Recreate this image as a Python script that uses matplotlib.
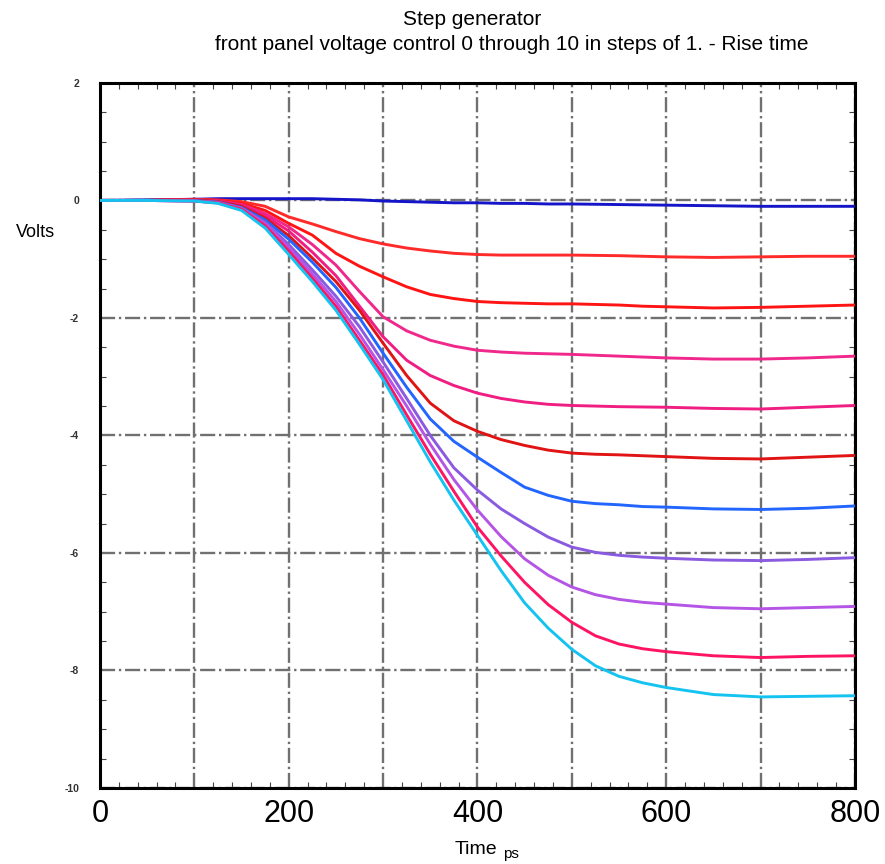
import matplotlib.pyplot as plt
import numpy as np
from matplotlib.ticker import MultipleLocator, FuncFormatter

# time axis in ps
time_ps = [0, 50, 100, 125, 150, 175, 200, 225, 250, 275, 300, 325, 350, 375,
           400, 425, 450, 475, 500, 525, 550, 575, 600, 650, 700, 750, 800]

# one trace per front panel setting (volts)
v_dark_blue = [0, 0.01, 0.02, 0.03, 0.03, 0.03, 0.03, 0.03, 0.02, 0.01, -0.01, -0.02, -0.03, -0.04,
               -0.04, -0.05, -0.05, -0.06, -0.06, -0.065, -0.07, -0.075, -0.08, -0.09, -0.10, -0.10, -0.10]
v_red1 = [0, 0, 0.02, 0.01, -0.02, -0.10, -0.28, -0.40, -0.53, -0.65, -0.74, -0.81, -0.86, -0.90,
          -0.92, -0.93, -0.93, -0.93, -0.93, -0.935, -0.94, -0.95, -0.96, -0.97, -0.96, -0.95, -0.95]
v_red2 = [0, 0, 0.01, 0, -0.05, -0.17, -0.39, -0.59, -0.90, -1.12, -1.30, -1.47, -1.60, -1.67,
          -1.72, -1.74, -1.75, -1.76, -1.76, -1.77, -1.78, -1.80, -1.81, -1.83, -1.82, -1.80, -1.78]
v_pink1 = [0, 0, 0.01, -0.01, -0.07, -0.22, -0.45, -0.75, -1.10, -1.55, -1.98, -2.22, -2.38, -2.48,
           -2.55, -2.58, -2.60, -2.61, -2.62, -2.635, -2.65, -2.665, -2.68, -2.70, -2.70, -2.68, -2.65]
v_pink2 = [0, 0, 0.01, -0.01, -0.08, -0.26, -0.52, -0.88, -1.28, -1.80, -2.32, -2.72, -2.98, -3.15,
           -3.28, -3.37, -3.43, -3.47, -3.49, -3.50, -3.51, -3.515, -3.52, -3.54, -3.55, -3.52, -3.49]
v_red3 = [0, 0, 0.01, -0.02, -0.10, -0.30, -0.60, -0.98, -1.38, -1.87, -2.43, -2.98, -3.45, -3.75,
          -3.93, -4.07, -4.17, -4.25, -4.30, -4.32, -4.33, -4.345, -4.36, -4.39, -4.40, -4.37, -4.34]
v_blue = [0, 0, 0, -0.03, -0.12, -0.33, -0.66, -1.05, -1.48, -2.00, -2.60, -3.18, -3.72, -4.10,
          -4.37, -4.63, -4.88, -5.02, -5.12, -5.16, -5.18, -5.21, -5.22, -5.25, -5.26, -5.24, -5.20]
v_purple = [0, 0, -0.01, -0.03, -0.13, -0.37, -0.75, -1.18, -1.63, -2.15, -2.75, -3.37, -4.00, -4.55,
            -4.93, -5.25, -5.50, -5.73, -5.90, -5.99, -6.04, -6.07, -6.09, -6.12, -6.13, -6.11, -6.08]
v_orchid = [0, 0, -0.01, -0.04, -0.14, -0.40, -0.80, -1.25, -1.72, -2.28, -2.88, -3.50, -4.15, -4.75,
            -5.27, -5.72, -6.10, -6.38, -6.58, -6.71, -6.79, -6.84, -6.87, -6.93, -6.95, -6.93, -6.91]
v_crimson = [0, 0, -0.01, -0.04, -0.15, -0.43, -0.86, -1.32, -1.80, -2.38, -2.97, -3.65, -4.32, -4.95,
             -5.56, -6.05, -6.50, -6.88, -7.18, -7.41, -7.55, -7.63, -7.68, -7.75, -7.78, -7.76, -7.75]
v_cyan = [0, 0, -0.01, -0.05, -0.17, -0.47, -0.92, -1.38, -1.87, -2.45, -3.05, -3.75, -4.45, -5.10,
          -5.70, -6.30, -6.85, -7.28, -7.64, -7.92, -8.10, -8.21, -8.29, -8.41, -8.45, -8.44, -8.43]

traces = [v_dark_blue, v_red1, v_red2, v_pink1, v_pink2, v_red3,
          v_blue, v_purple, v_orchid, v_crimson, v_cyan]
colors = ["#1414c8", "#ff2a2a", "#ff1414", "#f0288c", "#f01e82", "#e01414",
          "#2266ff", "#8a5ae0", "#b455e6", "#ff1464", "#14c3f0"]

plt.rcParams['font.family'] = ['Liberation Sans', 'DejaVu Sans']

fig = plt.figure(figsize=(8.85, 8.64), dpi=100)
ax = fig.add_axes([0.113, 0.088, 0.853, 0.816])

for v, c in zip(traces, colors):
    ax.plot(time_ps, v, color=c, lw=2.1, solid_capstyle="round",
            solid_joinstyle="round", zorder=3)

ax.set_xlim(0, 800)
ax.set_ylim(-10, 2)

ax.xaxis.set_major_locator(MultipleLocator(100))
ax.xaxis.set_minor_locator(MultipleLocator(20))
ax.yaxis.set_major_locator(MultipleLocator(2))
ax.yaxis.set_minor_locator(MultipleLocator(0.5))
ax.xaxis.set_major_formatter(FuncFormatter(lambda x, p: "%d" % x if int(x) % 200 == 0 else ""))
ax.yaxis.set_major_formatter(FuncFormatter(lambda y, p: "%d" % y))

ax.grid(True, which="major", color="#707070", lw=1.7, ls="-.", zorder=1)
ax.tick_params(axis="both", which="both", direction="in", color="#444444",
               top=True, right=True)
ax.tick_params(axis="both", which="major", length=0)
ax.tick_params(axis="both", which="minor", length=4, width=0.8)
ax.tick_params(axis="x", which="major", labelsize=22, pad=8)
ax.tick_params(axis="y", which="major", labelsize=7.5, pad=15)
for lab in ax.get_yticklabels():
    lab.set_fontweight("bold")
    lab.set_color("#333333")

for s in ax.spines.values():
    s.set_linewidth(2.2)
    s.set_color("black")

fig.text(0.533, 0.978, "Step generator", ha="center", va="center", fontsize=15)
fig.text(0.578, 0.949, "front panel voltage control 0 through 10 in steps of 1. - Rise time",
         ha="center", va="center", fontsize=15)
fig.text(0.04, 0.731, "Volts", ha="center", va="center", fontsize=13)
fig.text(0.562, 0.011, "Time", ha="right", va="baseline", fontsize=14)
fig.text(0.568, 0.007, "ps", ha="left", va="baseline", fontsize=11)

fig.savefig("out.png", dpi=100)
